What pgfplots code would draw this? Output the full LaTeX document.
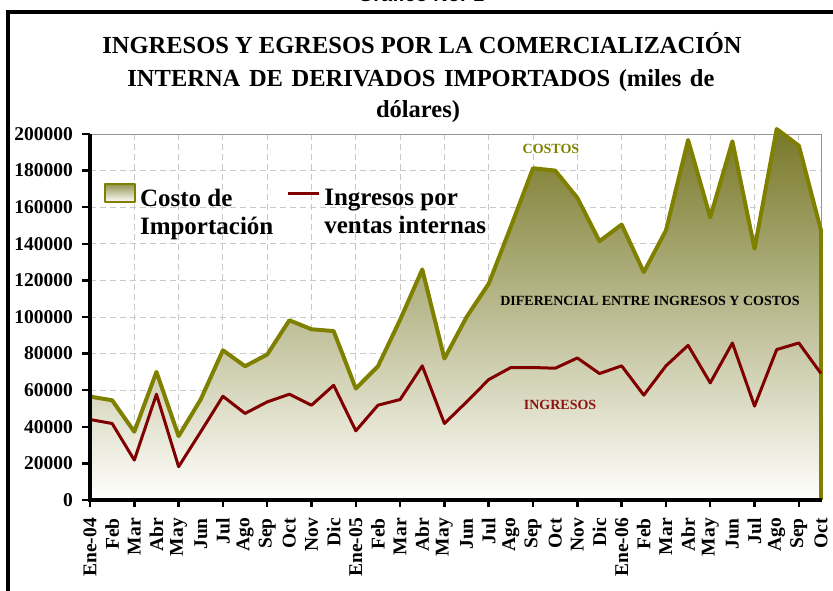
\documentclass[border=0pt]{standalone}
\usepackage{fontspec}
\setmainfont{Liberation Serif}
\newfontfamily\sansb{Liberation Sans}
\usepackage{pgfplots}
\pgfplotsset{compat=1.18}
\usepackage{pgfplotstable}
\definecolor{olivel}{RGB}{128,128,0}
\definecolor{redl}{RGB}{128,0,0}
\definecolor{redt}{RGB}{139,20,20}
\definecolor{fillt}{RGB}{120,120,40}
\definecolor{fillm}{RGB}{205,203,183}
\definecolor{fillb}{RGB}{255,255,253}
\definecolor{gridc}{RGB}{200,200,200}
\definecolor{bordc}{RGB}{150,150,150}

\pgfplotstableread{
idx costo ingresos
0 56500 44000
1 54500 41800
2 37300 21800
3 70000 57800
4 34900 18200
5 55000 37300
6 81800 56700
7 73100 47300
8 79500 53600
9 98200 57800
10 93300 51800
11 92300 62700
12 60900 37800
13 73100 51800
14 98500 54900
15 126000 73300
16 77300 41800
17 100000 53600
18 118200 65800
19 149400 72400
20 181300 72400
21 180000 72000
22 165100 77600
23 141400 69100
24 150500 73300
25 124500 57300
26 147300 73300
27 196700 84500
28 154500 64000
29 196000 85800
30 137300 51300
31 202700 82200
32 193600 85800
33 147300 69100
}\datatab

\begin{document}
\begin{tikzpicture}
\node[anchor=base, inner sep=0pt, font=\sansb\bfseries\fontsize{20}{20}\selectfont] at (421pt,588pt) {Gráfico No. 1};
\draw[line width=3.5pt] (8pt,-20pt) -- (8pt,578pt) -- (860pt,578pt);
\begin{scope}[every node/.style={anchor=base, inner sep=0pt, font=\bfseries\fontsize{24.5}{30}\selectfont}]
\node at (422pt,536pt) {INGRESOS Y EGRESOS POR LA COMERCIALIZACIÓN};
\node at (421pt,503pt) {\spaceskip=8.6pt INTERNA DE DERIVADOS IMPORTADOS (miles de};
\node at (418pt,472pt) {dólares)};
\end{scope}
\begin{axis}[
  at={(90pt,90pt)}, anchor=south west,
  scale only axis, width=731pt, height=366pt,
  xmin=0, xmax=33, ymin=0, ymax=200000,
  clip=false,
  axis line style={draw=none},
  tick pos=left, tick align=outside,
  xtick={0,...,33},
  xticklabels={Ene-04,Feb,Mar,Abr,May,Jun,Jul,Ago,Sep,Oct,Nov,Dic,Ene-05,Feb,Mar,Abr,May,Jun,Jul,Ago,Sep,Oct,Nov,Dic,Ene-06,Feb,Mar,Abr,May,Jun,Jul,Ago,Sep,Oct},
  minor xtick={0,2,...,32},
  xminorgrids=true, xmajorgrids=false, ymajorgrids=true,
  ytick={0,20000,40000,60000,80000,100000,120000,140000,160000,180000,200000},
  yticklabels={0,20000,40000,60000,80000,100000,120000,140000,160000,180000,200000},
  scaled y ticks=false,
  major tick length=8pt, minor tick length=7pt,
  tick style={black, line width=2.5pt},
  major x tick style={draw=none},
  major grid style={gridc, dash pattern=on 6pt off 4pt, line width=1pt},
  minor grid style={gridc, dash pattern=on 6pt off 4pt, line width=1pt},
  yticklabel style={inner sep=0pt, font=\bfseries\fontsize{19.5}{20}\selectfont, xshift=-9pt},
  xticklabel style={inner sep=0pt, yshift=-10pt, rotate=90, anchor=east, font=\bfseries\fontsize{19.5}{20}\selectfont},
  legend style={at={(rel axis cs:0.0192,0.866)}, anchor=north west, draw=none, fill=none,
    inner sep=0pt, outer sep=0pt,
    nodes={inner sep=0pt, anchor=north west, align=left},
    cells={anchor=north west, align=left},
    font=\bfseries\fontsize{25}{28}\selectfont,
    /tikz/every even column/.append style={column sep=13pt},
    /tikz/every odd column/.append style={column sep=4pt}},
  legend columns=2,
]
\draw[bordc, line width=1pt] (rel axis cs:0,1) -- (rel axis cs:1,1) -- (rel axis cs:1,0);
\addplot[draw=none, top color=fillt, middle color=fillm, bottom color=fillb, forget plot]
  table[x=idx, y=costo]{\datatab} \closedcycle;
\addplot[olivel, line width=4pt, line join=round,
  legend image code/.code={\draw[olivel, line width=2pt, top color=fillt!80!white, middle color=fillm, bottom color=fillb] (0pt,-13pt) rectangle (30pt,5pt);}]
  table[x=idx, y=costo]{\datatab};
\addlegendentry{Costo de\\Importación}
\addplot[olivel, line width=4pt, forget plot] coordinates {(33,147300) (33,0)};
\addplot[redl, line width=3pt, line join=round,
  legend image code/.code={\draw[redl, line width=3pt] (0pt,-4pt) -- (31pt,-4pt);}]
  table[x=idx, y=ingresos]{\datatab};
\addlegendentry{Ingresos por\\ventas internas}
\draw[black, line width=3.3pt] (rel axis cs:0,1) -- (rel axis cs:0,0) -- ([xshift=1pt]rel axis cs:1,0);
\node[olivel, font=\bfseries\fontsize{14}{14}\selectfont, inner sep=0pt] at (axis cs:20.81,192080) {COSTOS};
\node[black, font=\bfseries\fontsize{14}{14}\selectfont, inner sep=0pt] at (axis cs:25.28,108740) {DIFERENCIAL ENTRE INGRESOS Y COSTOS};
\node[redt, font=\bfseries\fontsize{14}{14}\selectfont, inner sep=0pt] at (axis cs:21.22,51910) {INGRESOS};
\end{axis}
\pgfresetboundingbox
\useasboundingbox (0,0) rectangle (833pt,590pt);
\end{tikzpicture}
\end{document}
